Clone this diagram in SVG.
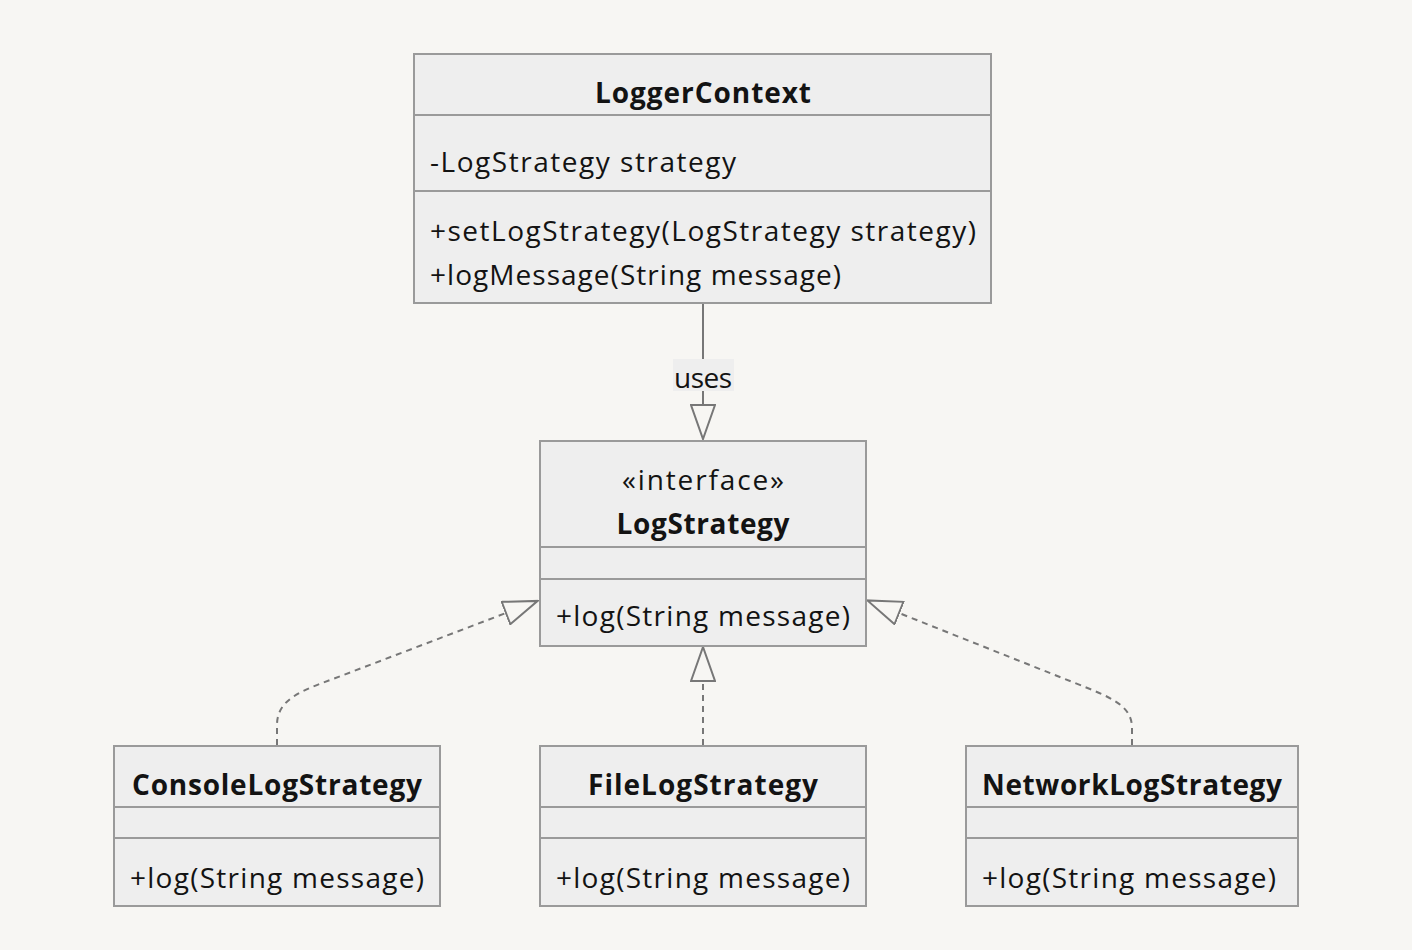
<svg xmlns="http://www.w3.org/2000/svg" width="1412" height="950" viewBox="0 0 1412 950">
  <style>
    .box { fill: #eeeeee; stroke: #9a9a9a; stroke-width: 2; }
    .div { stroke: #9a9a9a; stroke-width: 2; fill: none; }
    text { font-family: "Open Sans", "DejaVu Sans", sans-serif; font-size: 28px; fill: #131313; }
    .title { font-weight: bold; text-anchor: middle; }
    .center { text-anchor: middle; }
    .edge { fill: none; stroke: #777777; stroke-width: 2; }
    .dash { stroke-dasharray: 6 5; }
  </style>
  <defs>
    <marker id="ext" markerUnits="userSpaceOnUse" markerWidth="36" markerHeight="26" viewBox="-1 -1 36 26" refX="0" refY="12" orient="auto">
      <path d="M0,0 L34,12 L0,24 Z" fill="#f7f6f3" stroke="#777777" stroke-width="2"/>
    </marker>
  </defs>
  <rect x="0" y="0" width="1412" height="950" fill="#f7f6f3"/>

  <g id="connectors">
    <path class="edge" d="M703,304 L703,405" marker-end="url(#ext)"/>
    <rect x="673" y="359" width="61" height="32" fill="#eeeeee"/>
    <text x="703" y="388" class="center" textLength="58">uses</text>
    <path class="edge dash" d="M277,745 L277,725 C277,700 300,691 333,679 L506,613" marker-end="url(#ext)"/>
    <path class="edge dash" d="M703,745 L703,681" marker-end="url(#ext)"/>
    <path class="edge dash" d="M1132,745 L1132,728 C1132,705 1110,697 1075,683 L899,613" marker-end="url(#ext)"/>
  </g>

  <g id="LoggerContext">
    <rect class="box" x="414" y="54" width="577" height="249"/>
    <line class="div" x1="414" y1="115" x2="991" y2="115"/>
    <line class="div" x1="414" y1="191" x2="991" y2="191"/>
    <text x="703" y="103" class="title" textLength="216">LoggerContext</text>
    <text x="430" y="172" textLength="306">-LogStrategy strategy</text>
    <text x="430" y="241" textLength="546">+setLogStrategy(LogStrategy strategy)</text>
    <text x="430" y="285" textLength="411">+logMessage(String message)</text>
  </g>

  <g id="LogStrategy">
    <rect class="box" x="540" y="441" width="326" height="205"/>
    <line class="div" x1="540" y1="547" x2="866" y2="547"/>
    <line class="div" x1="540" y1="579" x2="866" y2="579"/>
    <text x="703" y="490" class="center" textLength="162">«interface»</text>
    <text x="703" y="534" class="title" textLength="173">LogStrategy</text>
    <text x="556" y="626" textLength="294">+log(String message)</text>
  </g>

  <g id="ConsoleLogStrategy">
    <rect class="box" x="114" y="746" width="326" height="160"/>
    <line class="div" x1="114" y1="807" x2="440" y2="807"/>
    <line class="div" x1="114" y1="838" x2="440" y2="838"/>
    <text x="277" y="795" class="title" textLength="290">ConsoleLogStrategy</text>
    <text x="130" y="888" textLength="294">+log(String message)</text>
  </g>

  <g id="FileLogStrategy">
    <rect class="box" x="540" y="746" width="326" height="160"/>
    <line class="div" x1="540" y1="807" x2="866" y2="807"/>
    <line class="div" x1="540" y1="838" x2="866" y2="838"/>
    <text x="703" y="795" class="title" textLength="230">FileLogStrategy</text>
    <text x="556" y="888" textLength="294">+log(String message)</text>
  </g>

  <g id="NetworkLogStrategy">
    <rect class="box" x="966" y="746" width="332" height="160"/>
    <line class="div" x1="966" y1="807" x2="1298" y2="807"/>
    <line class="div" x1="966" y1="838" x2="1298" y2="838"/>
    <text x="1132" y="795" class="title" textLength="300">NetworkLogStrategy</text>
    <text x="982" y="888" textLength="294">+log(String message)</text>
  </g>
</svg>
